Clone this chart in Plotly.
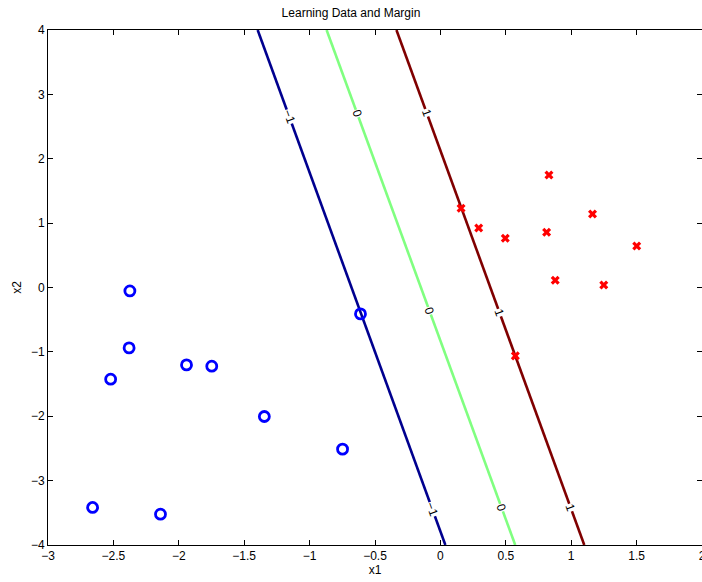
import plotly.graph_objects as go

# Class -1 (blue circles)
neg_x1 = [-2.374, -2.380, -2.521, -1.941, -1.748, -1.346, -0.748, -2.659, -2.140, -0.611]
neg_x2 = [-0.053, -0.938, -1.424, -1.202, -1.222, -2.004, -2.511, -3.417, -3.521, -0.410]

# Class +1 (red crosses)
pos_x1 = [0.158, 0.293, 0.496, 0.830, 0.812, 1.163, 1.501, 0.878, 1.249, 0.573]
pos_x2 = [1.231, 0.925, 0.765, 1.748, 0.859, 1.143, 0.646, 0.113, 0.040, -1.062]

# Margin contour lines: x1 where each level crosses x2 = 4 and x2 = -4
levels = [-1, 0, 1]
level_labels = ["-1", "0", "1"]
level_colors = ["#00008F", "#80FF80", "#800000"]
line_x2 = [4, -4]
line_x1 = [[-1.397, 0.038], [-0.870, 0.572], [-0.336, 1.100]]
# x2 positions of the inline labels on each line
label_x2 = [[2.65, -3.45], [2.71, -0.36, -3.42], [2.71, -0.39, -3.42]]

x_ticks = [-3, -2.5, -2, -1.5, -1, -0.5, 0, 0.5, 1, 1.5, 2]
y_ticks = [-4, -3, -2, -1, 0, 1, 2, 3, 4]

fig = go.Figure()
annotations = []
for lev, lab, col, xs, lys in zip(levels, level_labels, level_colors, line_x1, label_x2):
    fig.add_trace(go.Scatter(x=xs, y=line_x2, mode="lines",
                             line=dict(color=col, width=2.6), showlegend=False,
                             hoverinfo="skip"))
    for ly in lys:
        t = (line_x2[0] - ly) / (line_x2[0] - line_x2[1])
        lx = xs[0] + t * (xs[1] - xs[0])
        annotations.append(dict(x=lx, y=ly, xref="x", yref="y", text=lab.replace("-", "\u2212"),
                                showarrow=False, textangle=70, bgcolor="white",
                                font=dict(size=12, color="black", family="Liberation Sans, Arial"),
                                borderpad=0))

fig.add_trace(go.Scatter(x=neg_x1, y=neg_x2, mode="markers",
                         marker=dict(symbol="circle-open", size=10, color="#0000FF",
                                     line=dict(width=2.8, color="#0000FF")),
                         showlegend=False))
fig.add_trace(go.Scatter(x=pos_x1, y=pos_x2, mode="markers",
                         marker=dict(symbol="x", size=8, color="#FF0000",
                                     line=dict(width=0)),
                         showlegend=False))

axis_common = dict(showgrid=False, zeroline=False, showline=True, linecolor="black",
                   linewidth=1, mirror="ticks", ticks="inside", ticklen=5,
                   tickcolor="black", tickfont=dict(size=12, color="black"),
                   automargin=False, ticklabeloverflow="allow")

fig.update_layout(
    width=702, height=582, autosize=False,
    margin=dict(l=48, r=0, t=30, b=37, autoexpand=False),
    paper_bgcolor="white", plot_bgcolor="white",
    font=dict(family="Liberation Sans, Arial, sans-serif", size=12, color="black"),
    title=dict(text="Learning Data and Margin", x=0.5, xanchor="center",
               y=1 - 13 / 582, yanchor="middle", font=dict(size=12, color="black")),
    xaxis=dict(range=[-3, 2], tickvals=x_ticks, ticktext=[("%g" % v).replace("-", "\u2212") for v in x_ticks],
               title=dict(text="x1", standoff=0, font=dict(size=12)), **axis_common),
    yaxis=dict(range=[-4, 4], tickvals=y_ticks, ticktext=[("%g" % v).replace("-", "\u2212") for v in y_ticks],
               title=dict(text="x2", standoff=6, font=dict(size=12)), **axis_common),
    annotations=annotations,
)

fig.write_html("out.html", default_width="702px", default_height="582px",
               config={"responsive": False, "displayModeBar": False},
               post_script="document.body.style.margin='0';document.body.style.overflow='hidden';")
